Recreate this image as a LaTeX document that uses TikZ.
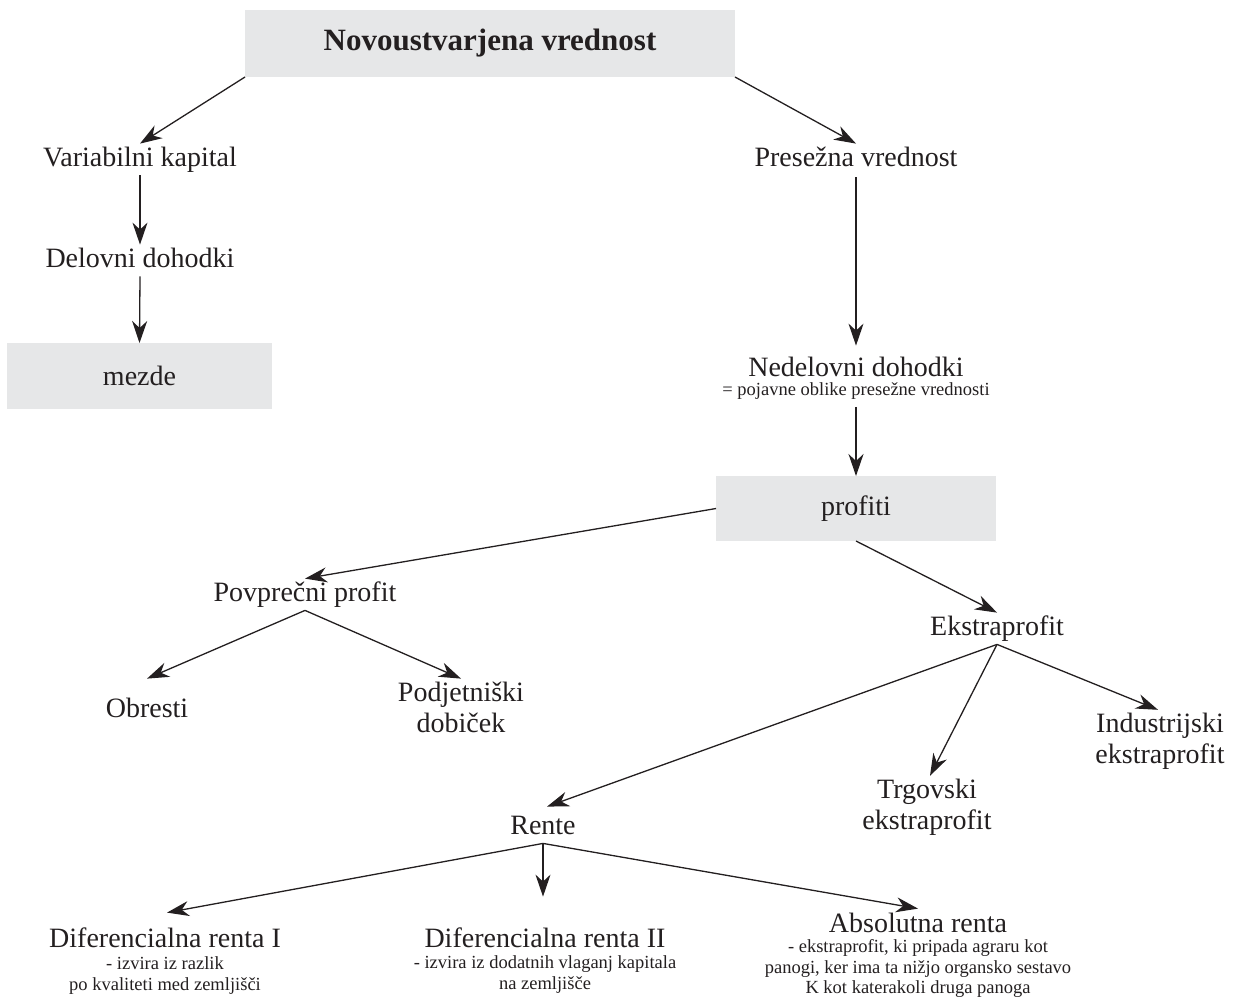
\documentclass[tikz,border=0pt]{standalone}
\usepackage{fontspec}
\setmainfont{Liberation Serif}
\usetikzlibrary{arrows.meta}
\definecolor{boxgray}{HTML}{E6E7E8}
\definecolor{ink}{HTML}{231F20}
\begin{document}
\begin{tikzpicture}[x=1pt,y=-1pt,
  lbl/.style={inner sep=0pt,outer sep=3pt,text=ink,font=\fontsize{28}{31}\selectfont,text height=19.6pt,text depth=6.2pt},
  lbltwo/.style={inner sep=0pt,outer sep=3pt,text=ink,font=\fontsize{28}{31}\selectfont,align=center},
  sub/.style={inner sep=0pt,outer sep=3pt,text=ink,font=\fontsize{18.5}{21}\selectfont,anchor=base},
  gbox/.style={fill=boxgray,inner sep=0pt,outer sep=0pt,text=ink,font=\fontsize{28}{31}\selectfont},
  arr/.style={line width=1.3pt,draw=ink,-{Stealth[length=22pt,width=15pt,inset=7pt]}}]
\useasboundingbox (0,0) rectangle (1233,1005);
% boxes
\node[gbox,minimum width=490pt,minimum height=67pt,font=\fontsize{31}{34}\selectfont\bfseries] (title) at (490,43.5) {Novoustvarjena vrednost};
\node[gbox,minimum width=265pt,minimum height=66pt] (mezde) at (139.5,376) {mezde};
\node[gbox,minimum width=280pt,minimum height=65pt] (profiti) at (856,508.5) {profiti};
% left branch
\node[lbl] (vk) at (140,159.5) {Variabilni kapital};
\node[lbl] (dd) at (140,260.5) {Delovni dohodki};
% right branch
\node[lbl] (pv) at (856,159.5) {Presežna vrednost};
\node[lbl] (nd) at (856,369.5) {Nedelovni dohodki};
\node[sub] (ndsub) at (856,395) {= pojavne oblike presežne vrednosti};
% profits
\node[lbl] (pp) at (305,594.5) {Povprečni profit};
\node[lbl] (ob) at (147,710.5) {Obresti};
\node[lbltwo] (pd) at (461,707) {Podjetniški\\dobiček};
\node[lbl] (ek) at (997,628.5) {Ekstraprofit};
\node[lbltwo] (ind) at (1160,741) {Industrijski\\ekstraprofit};
\node[lbltwo] (trg) at (927,807) {Trgovski\\ekstraprofit};
\node[lbl] (rente) at (543,827.5) {Rente};
% rents
\node[lbl] (d1) at (165,940.5) {Diferencialna renta I};
\node[sub] (d1a) at (165,969) {- izvira iz razlik};
\node[sub] (d1b) at (165,990) {po kvaliteti med zemljišči};
\node[lbl] (d2) at (545,940.5) {Diferencialna renta II};
\node[sub] (d2a) at (545,968) {- izvira iz dodatnih vlaganj kapitala};
\node[sub] (d2b) at (545,989) {na zemljišče};
\node[lbl] (ab) at (918,925.5) {Absolutna renta};
\node[sub] (aba) at (918,952) {- ekstraprofit, ki pripada agraru kot};
\node[sub] (abb) at (918,973) {panogi, ker ima ta nižjo organsko sestavo};
\node[sub] (abc) at (918,993) {K kot katerakoli druga panoga};
% connectors
\draw[arr] (title.south west) -- (vk.north);
\draw[arr] (title.south east) -- (pv.north);
\draw[arr] (vk.south) -- (dd.north);
\draw[arr] (dd.south) -- (mezde.north);
\draw[arr] ([yshift=-2pt]pv.south) -- ([yshift=8pt]nd.north);
\draw[arr] ([yshift=-5pt]ndsub.south) -- (profiti.north);
\draw[arr] (profiti.west) -- (pp.north);
\draw[arr] (profiti.south) -- (ek.north);
\draw[arr] (pp.south) -- (ob.north |- pd.north);
\draw[arr] (pp.south) -- (pd.north);
\draw[arr] (ek.south) -- ([xshift=4pt,yshift=5pt]rente.north);
\draw[arr] (ek.south) -- ([xshift=3pt]trg.north);
\draw[arr] (ek.south) -- ([xshift=-2pt]ind.north);
\draw[arr] (rente.south) -- ([xshift=2pt,yshift=12pt]d1.north);
\draw[arr] (rente.south) -- ([xshift=-2pt,yshift=28pt]d2.north);
\draw[arr] (rente.south) -- ([yshift=1pt]ab.north);
\end{tikzpicture}
\end{document}
